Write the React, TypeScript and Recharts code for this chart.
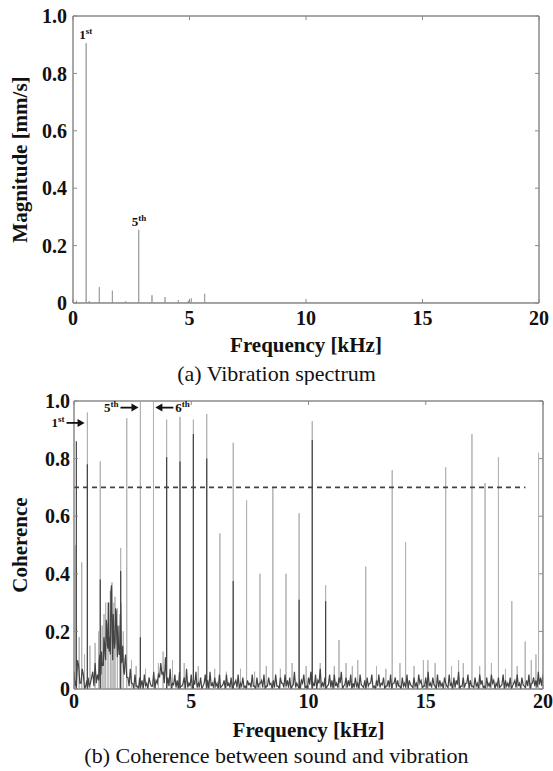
import React from 'react';
import {
  ComposedChart,
  Line,
  XAxis,
  YAxis,
  ReferenceLine,
  ReferenceDot,
  ReferenceArea,
} from 'recharts';

// (a) vibration spectrum: harmonic peaks [kHz, mm/s]
const spectrumPeaks = [
  [0.15, 0.008],
  [0.565, 0.905],
  [0.7, 0.007],
  [1.13, 0.055],
  [1.69, 0.043],
  [2.26, 0.006],
  [2.82, 0.255],
  [3.39, 0.027],
  [3.95, 0.02],
  [4.52, 0.01],
  [4.95, 0.008],
  [5.08, 0.016],
  [5.65, 0.032],
];

// (b) coherence: dark trace noise tops, every 0.1 kHz from 0 kHz
const darkNoise = [
  0.06, 0.03, 0.08, 0.02, 0.05, 0.01, 0.04, 0.02, 0.06, 0.09,
  0.05, 0.12, 0.08, 0.16, 0.22, 0.13, 0.36, 0.19, 0.27, 0.15,
  0.30, 0.09, 0.12, 0.04, 0.07, 0.02, 0.05, 0.01, 0.04, 0.03,
  0.05, 0.02, 0.04, 0.01, 0.06, 0.03, 0.05, 0.09, 0.06, 0.11,
  0.04, 0.07, 0.02, 0.05, 0.03, 0.06, 0.01, 0.04, 0.07, 0.02,
  0.05, 0.03, 0.06, 0.02, 0.04, 0.01, 0.05, 0.03, 0.06, 0.02,
  0.04, 0.02, 0.05, 0.01, 0.03, 0.05, 0.02, 0.04, 0.01, 0.03,
  0.05, 0.02, 0.04, 0.01, 0.03, 0.02, 0.05, 0.01, 0.04, 0.02,
  0.03, 0.05, 0.01, 0.04, 0.02, 0.03, 0.05, 0.01, 0.04, 0.02,
  0.05, 0.03, 0.04, 0.01, 0.06, 0.02, 0.04, 0.03, 0.05, 0.01,
  0.04, 0.06, 0.02, 0.05, 0.03, 0.07, 0.02, 0.04, 0.01, 0.05,
  0.03, 0.05, 0.02, 0.04, 0.06, 0.01, 0.04, 0.03, 0.05, 0.02,
  0.04, 0.02, 0.05, 0.01, 0.03, 0.04, 0.02, 0.05, 0.01, 0.03,
  0.05, 0.02, 0.04, 0.01, 0.03, 0.05, 0.02, 0.04, 0.03, 0.01,
  0.04, 0.02, 0.05, 0.03, 0.01, 0.04, 0.02, 0.05, 0.03, 0.01,
  0.04, 0.06, 0.02, 0.04, 0.01, 0.05, 0.03, 0.02, 0.04, 0.01,
  0.05, 0.02, 0.04, 0.03, 0.06, 0.01, 0.04, 0.02, 0.05, 0.03,
  0.01, 0.04, 0.02, 0.05, 0.03, 0.01, 0.04, 0.02, 0.05, 0.03,
  0.02, 0.04, 0.01, 0.05, 0.03, 0.02, 0.04, 0.01, 0.03, 0.05,
  0.02, 0.04, 0.01, 0.03, 0.05, 0.02, 0.04, 0.03, 0.06, 0.04,
  0.05,
];

// dark trace noise troughs, every 0.1 kHz from 0.05 kHz
const darkNoiseMid = [
  0.01, 0.10, 0.02, 0.07, 0.00, 0.03, 0.01, 0.04, 0.01, 0.02,
  0.03, 0.05, 0.08, 0.10, 0.14, 0.12, 0.10, 0.16, 0.11, 0.12,
  0.10, 0.05, 0.04, 0.01, 0.02, 0.00, 0.01, 0.00, 0.01, 0.00,
  0.01, 0.00, 0.02, 0.01, 0.00, 0.02, 0.04, 0.05, 0.02, 0.03,
  0.01, 0.00, 0.015, 0.005, 0.00, 0.01, 0.02, 0.00, 0.005, 0.01,
  0.00, 0.015, 0.005, 0.01, 0.00, 0.02, 0.005, 0.00, 0.01, 0.005,
  0.01, 0.00, 0.005, 0.015, 0.00, 0.01, 0.005, 0.00, 0.02, 0.005,
  0.00, 0.01, 0.005, 0.00, 0.015, 0.005, 0.01, 0.00, 0.005, 0.02,
  0.005, 0.00, 0.01, 0.015, 0.00, 0.005, 0.01, 0.00, 0.02, 0.005,
  0.01, 0.005, 0.00, 0.015, 0.005, 0.01, 0.00, 0.02, 0.005, 0.00,
  0.015, 0.005, 0.01, 0.00, 0.02, 0.005, 0.01, 0.00, 0.015, 0.005,
  0.00, 0.01, 0.005, 0.02, 0.00, 0.015, 0.005, 0.01, 0.00, 0.005,
  0.01, 0.00, 0.015, 0.005, 0.00, 0.01, 0.02, 0.005, 0.00, 0.01,
  0.005, 0.015, 0.00, 0.01, 0.005, 0.00, 0.02, 0.005, 0.01, 0.00,
  0.01, 0.005, 0.00, 0.015, 0.005, 0.01, 0.00, 0.02, 0.005, 0.01,
  0.00, 0.01, 0.005, 0.015, 0.00, 0.005, 0.01, 0.00, 0.02, 0.005,
  0.01, 0.00, 0.005, 0.015, 0.00, 0.01, 0.005, 0.02, 0.00, 0.01,
  0.005, 0.01, 0.00, 0.015, 0.005, 0.00, 0.01, 0.005, 0.02, 0.00,
  0.01, 0.005, 0.015, 0.00, 0.01, 0.005, 0.00, 0.02, 0.005, 0.01,
  0.00, 0.015, 0.005, 0.01, 0.00, 0.02, 0.01, 0.005, 0.015, 0.01,
];

// extra dark samples across the 1-2.2 kHz hump, every 0.05 kHz from 1.025 kHz
const darkHump = [
  0.04, 0.10, 0.07, 0.13, 0.09, 0.18, 0.12, 0.24, 0.15, 0.30, 0.18, 0.34,
  0.20, 0.26, 0.14, 0.28, 0.17, 0.22, 0.12, 0.26, 0.09, 0.15, 0.06, 0.10,
];

// light trace: tall coherence peaks [kHz, coherence]
const lightPeaks = [
  [0.05, 0.5], [0.33, 0.44], [0.57, 0.96], [1.12, 0.79], [1.99, 0.49],
  [2.25, 0.94], [2.83, 1.0], [3.39, 1.0], [3.95, 0.935], [4.52, 0.945],
  [5.09, 0.935], [5.66, 0.955], [6.22, 0.54], [6.79, 0.855], [7.36, 0.655],
  [7.93, 0.4], [8.48, 0.7], [9.04, 0.4], [9.6, 0.61], [10.16, 0.93],
  [10.73, 0.36], [11.3, 0.17], [11.87, 0.08], [12.44, 0.425], [13.57, 0.76],
  [14.14, 0.51], [15.09, 0.1], [15.85, 0.77], [16.4, 0.1], [16.97, 0.885],
  [17.53, 0.715], [18.1, 0.805], [18.67, 0.305], [19.24, 0.165], [19.81, 0.82],
];

// light trace: small speckles above the noise floor
const lightSpeckles = [
  [0.22, 0.18], [0.45, 0.12], [0.68, 0.15], [0.9, 0.16], [1.05, 0.2],
  [1.2, 0.22], [1.28, 0.26], [1.35, 0.3], [1.45, 0.3], [1.55, 0.34],
  [1.62, 0.37], [1.7, 0.3], [1.75, 0.32], [1.85, 0.28], [1.95, 0.22],
  [2.1, 0.2], [2.45, 0.1], [2.65, 0.08], [3.05, 0.07], [3.6, 0.09],
  [3.8, 0.13], [4.2, 0.1], [4.7, 0.09], [5.3, 0.08], [6.0, 0.07],
  [6.5, 0.06], [7.1, 0.07], [7.7, 0.06], [8.2, 0.08], [8.8, 0.07],
  [9.3, 0.09], [9.9, 0.08], [10.5, 0.09], [11.1, 0.08], [11.6, 0.09],
  [12.1, 0.1], [12.9, 0.08], [13.3, 0.07], [13.9, 0.09], [14.5, 0.08],
  [14.9, 0.1], [15.4, 0.09], [16.1, 0.08], [16.6, 0.09], [17.3, 0.08],
  [17.8, 0.09], [18.4, 0.07], [18.9, 0.08], [19.5, 0.1], [19.7, 0.12],
];

// dark trace peaks [kHz, coherence]
const darkPeaks = [
  [0.1, 0.86], [0.57, 0.78], [1.12, 0.38], [1.99, 0.41], [2.83, 0.18],
  [3.95, 0.805], [4.52, 0.79], [5.09, 0.885], [5.66, 0.8], [6.79, 0.375],
  [9.6, 0.31], [10.16, 0.865], [10.73, 0.305],
];

const threshold = 0.7;
const thresholdEnd = 19.25;

const freqTicks = [0, 5, 10, 15, 20];
const unitTicks = [0, 0.2, 0.4, 0.6, 0.8, 1.0];

type Pt = { f: number; v: number };

const stems = (peaks: number[][]): Pt[] =>
  peaks.flatMap(([f, v]) => [
    { f, v: 0 },
    { f, v },
    { f, v: 0 },
  ]);

const sampled = (noise: number[], start: number, step: number): Pt[] =>
  noise.map((v, i) => ({ f: start + i * step, v }));

const byFreq = (a: Pt, b: Pt) => a.f - b.f;

const spectrumData: Pt[] = [{ f: 0, v: 0 }, ...stems(spectrumPeaks), { f: 20, v: 0 }];
const darkData = [
  ...sampled(darkNoise, 0, 0.1),
  ...sampled(darkNoiseMid, 0.05, 0.1),
  ...sampled(darkHump, 1.025, 0.05),
  ...stems(darkPeaks),
].sort(byFreq);
const lightData = [{ f: 0, v: 0 }, ...stems(lightPeaks), ...stems(lightSpeckles), { f: 20, v: 0 }].sort(byFreq);

const SERIF = '"Liberation Serif", "Times New Roman", serif';
const FRAME = '#8a8a8a';
const W = 553;

const tickFont = { fill: '#111', fontSize: 20, fontWeight: 700, fontFamily: SERIF };
const fmtUnit = (v: number) => (v === 0 ? '0' : v.toFixed(1));
const noTick = () => <g />;

const yTitle = (text: string) => (props: any) => {
  const vb = props.viewBox || {};
  const x = vb.x + 27;
  const y = vb.y + vb.height / 2;
  return (
    <text
      x={x}
      y={y}
      transform={`rotate(-90, ${x}, ${y})`}
      textAnchor="middle"
      fontFamily={SERIF}
      fontWeight={700}
      fontSize={21}
      fill="#111"
    >
      {text}
    </text>
  );
};

const xTitle = (caption: string, titleDy: number, captionDy: number) => (props: any) => {
  const vb = props.viewBox || {};
  return (
    <g>
      <text
        x={vb.x + vb.width / 2}
        y={vb.y + titleDy}
        textAnchor="middle"
        fontFamily={SERIF}
        fontWeight={700}
        fontSize={21}
        fill="#111"
      >
        Frequency [kHz]
      </text>
      <text x={W / 2} y={vb.y + captionDy} textAnchor="middle" fontFamily={SERIF} fontSize={22} fill="#111">
        {caption}
      </text>
    </g>
  );
};

const Ordinal = ({ x, y, main, sup, anchor = 'start' }: any) => (
  <text x={x} y={y} textAnchor={anchor} fontFamily={SERIF} fontWeight={700} fontSize={13} fill="#111">
    {main}
    <tspan fontSize={9} dy={-5}>
      {sup}
    </tspan>
  </text>
);

const peakNote = (main: string, sup: string) => (props: any) => {
  const vb = props.viewBox || {};
  return <Ordinal x={vb.x - 7} y={vb.y - 4} main={main} sup={sup} />;
};

const arrowNote = (main: string, sup: string, dir: 'right' | 'left') => (props: any) => {
  const vb = props.viewBox || {};
  const x = vb.x;
  const y = vb.y;
  const s = dir === 'right' ? -1 : 1;
  return (
    <g>
      <line x1={x + s * 18} y1={y} x2={x + s * 6} y2={y} stroke="#111" strokeWidth={1.8} />
      <polygon points={`${x},${y} ${x + s * 7},${y - 4} ${x + s * 7},${y + 4}`} fill="#111" />
      {dir === 'right' ? (
        <Ordinal x={x - 20} y={y + 4} main={main} sup={sup} anchor="end" />
      ) : (
        <Ordinal x={x + 20} y={y + 4} main={main} sup={sup} />
      )}
    </g>
  );
};

// MATLAB-style box: labelled axes bottom/left, bare inward ticks top/right
const Frame = ({ xTickMargin, yTickMargin, yWidth, caption, titleDy, captionDy, yLabel, boxData }: any) => [
  <XAxis
    key="xb"
    type="number"
    dataKey="f"
    domain={[0, 20]}
    ticks={freqTicks}
    interval={0}
    height={82}
    tickSize={-4}
    tickMargin={xTickMargin}
    axisLine={{ stroke: FRAME }}
    tickLine={{ stroke: FRAME }}
    tick={tickFont}
    allowDataOverflow
    label={xTitle(caption, titleDy, captionDy)}
  />,
  <XAxis
    key="xt"
    xAxisId="top"
    orientation="top"
    type="number"
    dataKey="f"
    domain={[0, 20]}
    ticks={freqTicks}
    interval={0}
    height={1}
    tickSize={-4}
    axisLine={{ stroke: FRAME }}
    tickLine={{ stroke: FRAME }}
    tick={noTick}
    allowDataOverflow
  />,
  <YAxis
    key="yl"
    type="number"
    domain={[0, 1]}
    ticks={unitTicks}
    interval={0}
    width={yWidth}
    tickSize={-4}
    tickMargin={yTickMargin}
    axisLine={{ stroke: FRAME }}
    tickLine={{ stroke: FRAME }}
    tick={tickFont}
    tickFormatter={fmtUnit}
    allowDataOverflow
    label={yTitle(yLabel)}
  />,
  <YAxis
    key="yr"
    yAxisId="right"
    orientation="right"
    type="number"
    domain={[0, 1]}
    ticks={unitTicks}
    interval={0}
    width={1}
    tickSize={-4}
    axisLine={{ stroke: FRAME }}
    tickLine={{ stroke: FRAME }}
    tick={noTick}
    allowDataOverflow
  />,
  // invisible series so the top/right axes are registered and drawn
  <Line
    key="box"
    xAxisId="top"
    yAxisId="right"
    data={boxData}
    dataKey="v"
    stroke="none"
    dot={false}
    activeDot={false}
    legendType="none"
    isAnimationActive={false}
  />,
  <ReferenceArea key="rect" x1={0} x2={20} y1={0} y2={1} fill="none" stroke={FRAME} strokeOpacity={1} fillOpacity={0} />,
];

const SpectrumChart = () => (
  <ComposedChart width={W} height={385} margin={{ top: 15, right: 13, bottom: 0, left: 0 }}>
    {Frame({
      xTickMargin: 12,
      yTickMargin: 10,
      yWidth: 73,
      caption: '(a) Vibration spectrum',
      titleDy: 49,
      captionDy: 78,
      yLabel: 'Magnitude [mm/s]',
      boxData: spectrumData,
    })}
    <Line
      data={spectrumData}
      dataKey="v"
      type="linear"
      stroke="#a0a0a0"
      strokeWidth={1}
      dot={false}
      activeDot={false}
      isAnimationActive={false}
    />
    <ReferenceDot x={spectrumPeaks[1][0]} y={spectrumPeaks[1][1]} r={0} fill="none" stroke="none" label={peakNote('1', 'st')} />
    <ReferenceDot x={spectrumPeaks[6][0]} y={spectrumPeaks[6][1]} r={0} fill="none" stroke="none" label={peakNote('5', 'th')} />
  </ComposedChart>
);

const CoherenceChart = () => (
  <ComposedChart width={W} height={386} margin={{ top: 15, right: 9, bottom: 0, left: 0 }}>
    {Frame({
      xTickMargin: 9,
      yTickMargin: 8,
      yWidth: 74,
      caption: '(b) Coherence between sound and vibration',
      titleDy: 48,
      captionDy: 74,
      yLabel: 'Coherence',
      boxData: lightData,
    })}
    <Line
      data={lightData}
      dataKey="v"
      type="linear"
      stroke="#b2b2b2"
      strokeWidth={1}
      dot={false}
      activeDot={false}
      isAnimationActive={false}
    />
    <Line
      data={darkData}
      dataKey="v"
      type="linear"
      stroke="#444"
      strokeWidth={1.2}
      dot={false}
      activeDot={false}
      isAnimationActive={false}
    />
    <ReferenceLine
      segment={[
        { x: 0, y: threshold },
        { x: thresholdEnd, y: threshold },
      ]}
      stroke="#444"
      strokeWidth={1.6}
      strokeDasharray="5 4"
    />
    <ReferenceDot x={0.45} y={0.924} r={0} fill="none" stroke="none" label={arrowNote('1', 'st', 'right')} />
    <ReferenceDot x={2.75} y={0.977} r={0} fill="none" stroke="none" label={arrowNote('5', 'th', 'right')} />
    <ReferenceDot x={3.47} y={0.977} r={0} fill="none" stroke="none" label={arrowNote('6', 'th', 'left')} />
  </ComposedChart>
);

export default function App() {
  return (
    <div style={{ position: 'absolute', left: 0, top: 0, width: W, height: 771, background: '#fff' }}>
      <SpectrumChart />
      <CoherenceChart />
    </div>
  );
}
